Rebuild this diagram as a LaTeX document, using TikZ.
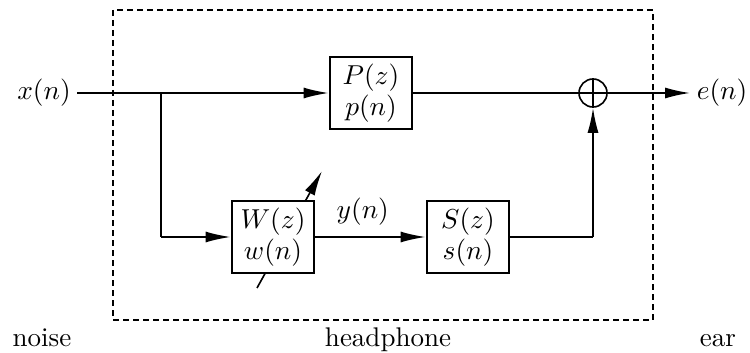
\documentclass[tikz,border=0pt]{standalone}
\usetikzlibrary{arrows.meta}
\begin{document}
\begin{tikzpicture}[x=0.4pt,y=-0.4pt,
  font=\fontsize{10.8}{13}\selectfont,
  block/.style={draw,line width=1.15pt,fill=white,minimum width=32.8pt,minimum height=28.8pt,inner sep=0pt,align=center,font=\fontsize{11.4}{12.6}\selectfont},
  sig/.style={line width=0.65pt},
  arr/.style={sig,-{Latex[length=10pt,width=4.4pt]}},
  lbl/.style={anchor=base}]
\useasboundingbox (0,0) rectangle (750,352);
% headphone enclosure
\draw[line width=0.45pt,dash pattern=on 2.4pt off 1.6pt] (113,10) rectangle (653,320);
% blocks
\node[block] (P) at (371,93) {$P(z)$\\$p(n)$};
\node[block] (S) at (468,237) {$S(z)$\\$s(n)$};
\node[sig,draw,circle,minimum size=11.2pt,inner sep=0pt] (sum) at (593,93) {};
\draw[sig] (sum.north) -- (sum.south) (sum.west) -- (sum.east);
% signals
\node (x) at (44,93) {$x(n)$};
\node (e) at (722,93) {$e(n)$};
\coordinate (xs) at (77,93);
\coordinate (br) at (161,93);
\coordinate (brd) at (161,237);
\coordinate (sr) at (593,237);
\coordinate (eo) at (690,93);
% adaptation arrow through W
\coordinate (ws) at (257,288);
\coordinate (we) at (322,171);
\draw[arr] (ws) -- (we);
\node[block] (W) at (273,237) {$W(z)$\\$w(n)$};
\draw[arr] (xs) -- (P.west);
\draw[sig] (br) -- (brd);
\draw[arr] (brd) -- (W.west);
\draw[arr] (W.east) -- node[above,pos=0.43,yshift=1pt] {$y(n)$} (S.west);
\draw[sig] (P.east) -- (sum.west);
\draw[sig] (S.east) -- (sr);
\draw[arr] (sr) -- (sum.south);
\draw[arr] (sum.east) -- (eo);
% labels
\node[lbl] (noise) at (42,346) {noise};
\node[lbl] (hp) at (388,346) {headphone};
\node[lbl] (ear) at (718,346) {ear};
\end{tikzpicture}
\end{document}
